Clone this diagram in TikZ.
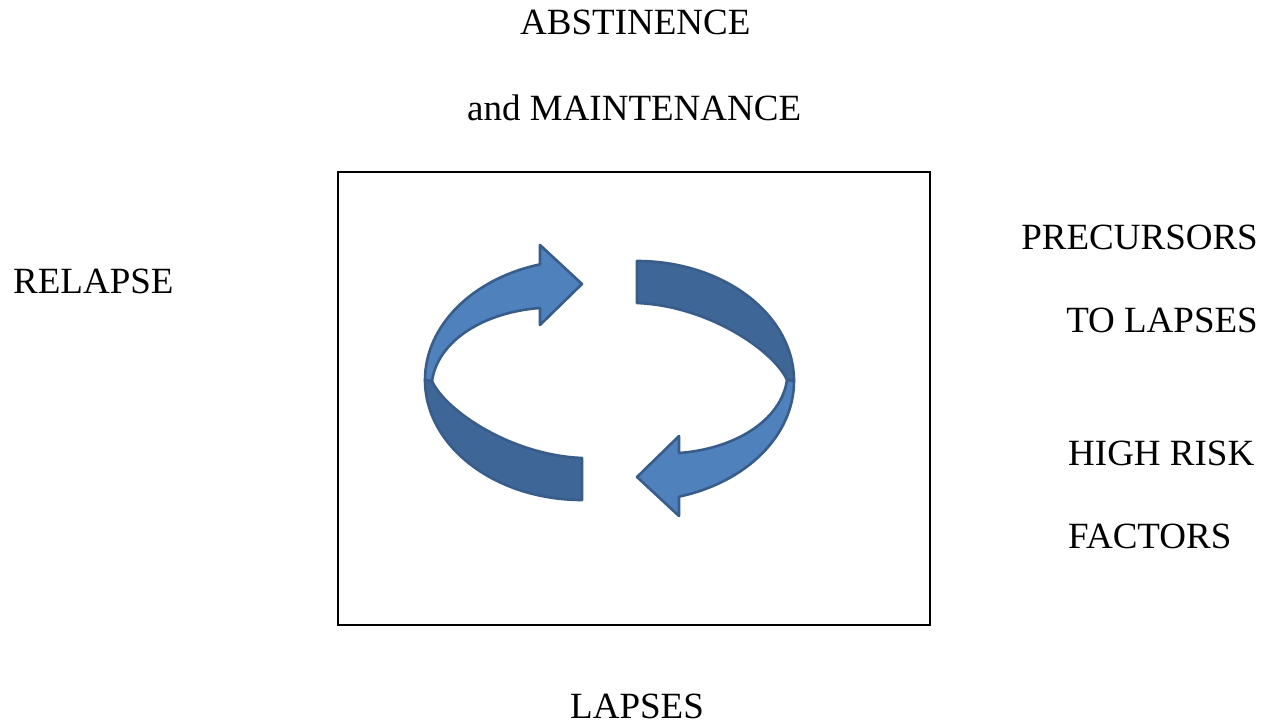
\documentclass[tikz,border=0pt]{standalone}
\usepackage{fontspec}
\setmainfont{Liberation Serif}
\definecolor{lightblue}{HTML}{4F81BD}
\definecolor{darkblue}{HTML}{3E6696}
\definecolor{edgeblue}{HTML}{385D8A}
\begin{document}
\begin{tikzpicture}[x=1pt,y=-1pt,
  lbl/.style={inner sep=0pt,font=\fontsize{37}{44}\selectfont},
  band/.style={draw=edgeblue,line width=2.6pt,line join=round},
  lightband/.style={band,fill=lightblue},
  darkband/.style={band,fill=darkblue}]
\useasboundingbox (0,0) rectangle (1271,725);
\fill[white] (0,0) rectangle (1271,725);
% frame
\node[draw=black,line width=2pt,minimum width=592pt,minimum height=453pt,inner sep=0pt] (frame) at (634,398.5) {};
% left arrow
\begin{scope}
  \path[darkband] (425,380) arc[start angle=180,end angle=90,x radius=157,y radius=120]
    -- (582,458) .. controls (510,455) and (445,410) .. (432,381) -- cycle;
  \path[lightband] (425,380) arc[start angle=180,end angle=254.5,x radius=157,y radius=120]
    -- (540,245) -- (582,284) -- (540,325) -- (540,308)
    .. controls (485,312) and (438,340) .. (432,381) -- cycle;
\end{scope}
% right arrow (point reflection)
\begin{scope}[rotate around={180:(609.5,380.5)}]
  \path[darkband] (425,380) arc[start angle=180,end angle=90,x radius=157,y radius=120]
    -- (582,458) .. controls (510,455) and (445,410) .. (432,381) -- cycle;
  \path[lightband] (425,380) arc[start angle=180,end angle=254.5,x radius=157,y radius=120]
    -- (540,245) -- (582,284) -- (540,325) -- (540,308)
    .. controls (485,312) and (438,340) .. (432,381) -- cycle;
\end{scope}
% labels
\node[lbl,anchor=base west] (abst) at (520,35) {ABSTINENCE};
\node[lbl,anchor=base west] (maint) at (467,120) {and MAINTENANCE};
\node[lbl,anchor=base west] (relapse) at (13,293) {RELAPSE};
\node[lbl,anchor=base east] (prec) at (1258,249) {PRECURSORS};
\node[lbl,anchor=base east] (tolapses) at (1258,332) {TO LAPSES};
\node[lbl,anchor=base west] (high) at (1068,465) {HIGH RISK};
\node[lbl,anchor=base west] (factors) at (1068,548) {FACTORS};
\node[lbl,anchor=base west] (lapses) at (570,718) {LAPSES};
\end{tikzpicture}
\end{document}
